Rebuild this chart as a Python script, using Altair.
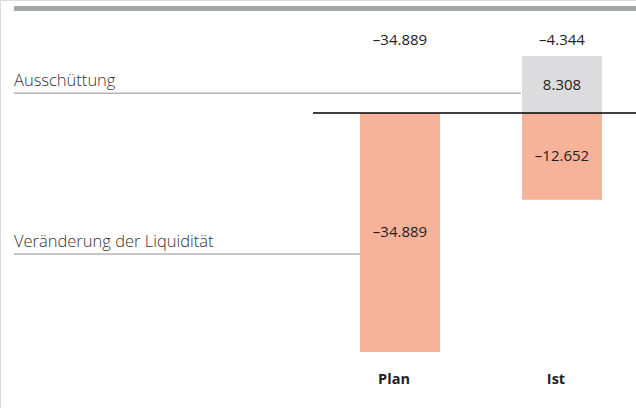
import altair as alt
import pandas as pd

# Data (values in thousands, German notation in labels)
bar_cats = ["Plan", "Ist", "Ist"]
bar_series = ["Veränderung der Liquidität", "Veränderung der Liquidität", "Ausschüttung"]
bar_values = [-34889, -12652, 8308]

total_cats = ["Plan", "Ist"]
total_values = [-34889, -4344]

legend_labels = ["Ausschüttung", "Veränderung der Liquidität"]
legend_y = [2900, -20600]
legend_line_end = [521, 360]

categories = ["Plan", "Ist"]

FONT = "Open Sans"


def fmt(v):
    s = f"{abs(v):,}".replace(",", ".")
    return ("–" if v < 0 else "") + s


bars = pd.DataFrame({
    "cat": bar_cats,
    "series": bar_series,
    "value": bar_values,
})
bars["mid"] = bars["value"] / 2
bars["label"] = [fmt(v) for v in bar_values]

totals = pd.DataFrame({"cat": total_cats, "value": total_values})
totals["label"] = [fmt(v) for v in total_values]

legend = pd.DataFrame({"label": legend_labels, "ly": legend_y})

cats_df = pd.DataFrame({"cat": categories})

yscale = alt.Scale(domain=[-43070, 16500], nice=False, zero=False)
xscale = alt.Scale(domain=categories, range=[360, 602], paddingInner=0.506, paddingOuter=0)

color_scale = alt.Scale(
    domain=["Veränderung der Liquidität", "Ausschüttung"],
    range=["#f7b29a", "#dcdcde"],
)

bar_layer = alt.Chart(bars).mark_bar(size=80).encode(
    x=alt.X("cat:N", scale=xscale, axis=None),
    y=alt.Y("value:Q", scale=yscale, axis=None, stack=None),
    y2=alt.datum(0),
    color=alt.Color("series:N", scale=color_scale, legend=None),
)

bar_text = alt.Chart(bars).mark_text(
    font=FONT, fontSize=15, color="#222222", baseline="middle"
).encode(
    x=alt.X("cat:N", scale=xscale, axis=None),
    y=alt.Y("mid:Q", scale=yscale, axis=None),
    text="label:N",
)

total_text = alt.Chart(totals).mark_text(
    font=FONT, fontSize=15, color="#222222", baseline="middle"
).encode(
    x=alt.X("cat:N", scale=xscale, axis=None),
    y=alt.value(40),
    text="label:N",
)

cat_text = alt.Chart(cats_df).mark_text(
    font=FONT, fontSize=14.5, fontWeight="bold", color="#222222", baseline="middle", dx=-6
).encode(
    x=alt.X("cat:N", scale=xscale, axis=None),
    y=alt.value(380),
    text="cat:N",
)

legend_line_layers = []
for i in range(len(legend_labels)):
    legend_line_layers.append(
        alt.Chart(legend.iloc[[i]]).mark_rule(color="#b5b5b5", strokeWidth=1.5).encode(
            x=alt.value(14),
            x2=alt.value(legend_line_end[i]),
            y=alt.Y("ly:Q", scale=yscale, axis=None),
        )
    )

legend_text = alt.Chart(legend).mark_text(
    font=FONT, fontSize=16.5, fontWeight=300, color="#333333", align="left",
    baseline="alphabetic", dy=-7
).encode(
    x=alt.value(14),
    y=alt.Y("ly:Q", scale=yscale, axis=None),
    text="label:N",
)

zero_line = alt.Chart(pd.DataFrame({"z": [0]})).mark_rule(color="#000000", strokeWidth=1.3).encode(
    x=alt.value(313),
    x2=alt.value(636),
    y=alt.Y("z:Q", scale=yscale, axis=None),
)

top_band = alt.Chart(pd.DataFrame({"t": [0]})).mark_rule(color="#a6a7a9", strokeWidth=5).encode(
    x=alt.value(14),
    x2=alt.value(636),
    y=alt.value(8.5),
)

chart = alt.layer(
    top_band, bar_layer, zero_line, *legend_line_layers, legend_text, bar_text, total_text, cat_text
).properties(
    width=636, height=408, padding=0, autosize=alt.AutoSizeParams(type="none")
).configure_view(stroke=None).configure(background="white")

chart.save("out.html", embed_options={"renderer": "svg", "actions": False})
